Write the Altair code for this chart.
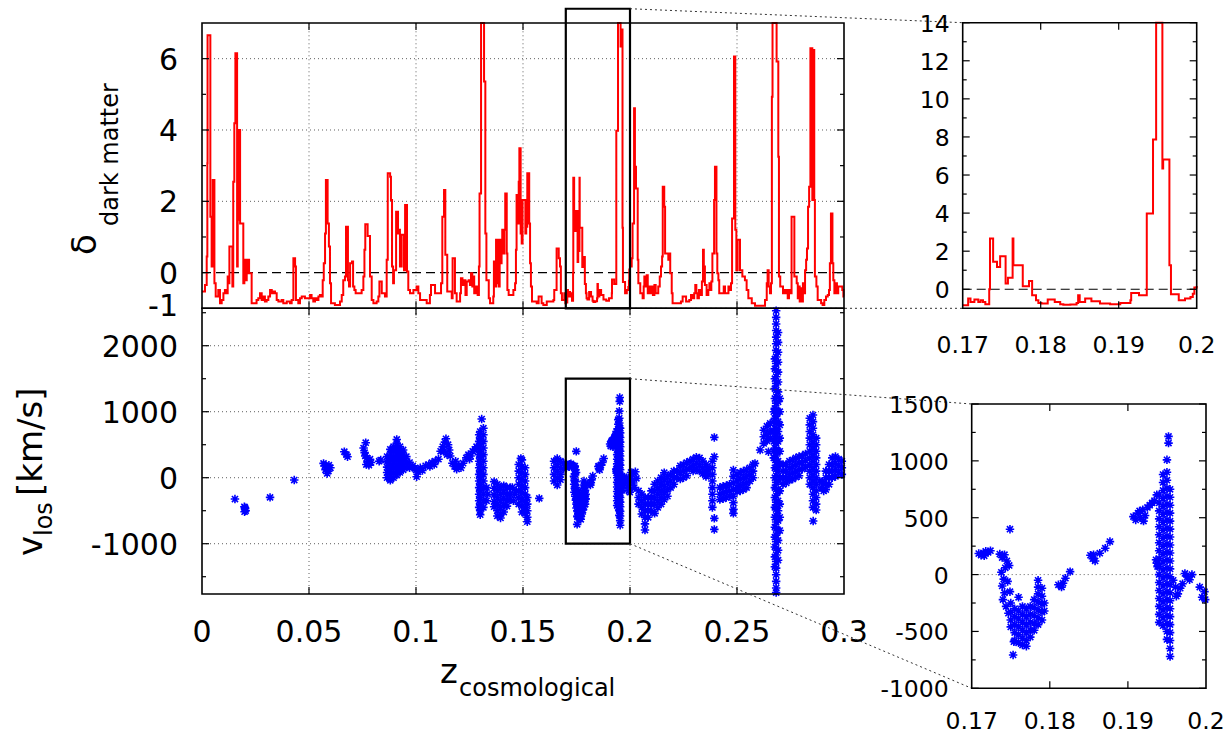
import altair as alt
import pandas as pd

# ---------------------------------------------------------------- data
# dark-matter overdensity along the line of sight (step curve): (z, delta)
delta_a = [(0.0000,-0.53),(0.0014,-0.35),(0.0022,0.45),(0.0025,3.07),(0.0026,6.66),(0.0039,1.57),(0.0045,0.17),
 (0.0050,2.60),(0.0058,-0.30),(0.0064,-0.67),(0.0076,-0.49),(0.0084,-0.86),(0.0092,-0.77),(0.0100,-0.58),(0.0107,-0.49),
 (0.0115,-0.58),(0.0120,-0.11),(0.0123,-0.30),(0.0128,0.73),(0.0142,-0.39),(0.0146,2.55),(0.0151,4.19),(0.0156,6.15),
 (0.0164,0.17),(0.0167,1.48),(0.0171,4.00),(0.0178,1.38),(0.0193,-0.30),(0.0198,0.36),(0.0204,-0.21),(0.0209,-0.02),
 (0.0213,0.36),(0.0220,-0.02),(0.0232,-0.86),(0.0255,-0.77),(0.0263,-0.72),(0.0271,-0.58),(0.0279,-0.77),(0.0287,-0.67),
 (0.0294,-0.81),(0.0302,-0.77),(0.0310,-0.67),(0.0318,-0.49),(0.0326,-0.58),(0.0334,-0.53),(0.0341,-0.58),(0.0349,-0.77),
 (0.0357,-0.81),(0.0372,-0.77),(0.0380,-0.86),(0.0396,-0.81),(0.0411,-0.86),(0.0419,-0.77),(0.0427,0.40),(0.0435,0.17),
 (0.0439,-0.77),(0.0450,-0.86),(0.0458,-0.72),(0.0466,-0.67),(0.0481,-0.72),(0.0505,-0.63),(0.0512,-0.72),(0.0520,-0.81),
 (0.0528,-0.72),(0.0536,-0.77),(0.0544,-0.67),(0.0551,-0.63),(0.0559,-0.67),(0.0564,-0.21),(0.0569,0.26),(0.0575,1.10),
 (0.0579,2.60),(0.0587,1.38),(0.0593,0.73),(0.0598,-0.30),(0.0603,-0.86),(0.0621,-0.91),(0.0645,-0.81),(0.0653,-0.63),
 (0.0660,-0.21),(0.0668,-0.11),(0.0673,1.29),(0.0682,-0.21),(0.0687,-0.39),(0.0692,0.26),(0.0701,0.31),(0.0706,-0.39),
 (0.0712,-0.49),(0.0718,-0.58),(0.0746,-0.49),(0.0754,-0.11),(0.0759,0.64),(0.0763,1.36),(0.0774,1.03),(0.0785,-0.11),
 (0.0793,-0.77),(0.0801,-0.86),(0.0816,-0.81),(0.0824,-0.67),(0.0829,-0.25),(0.0840,-0.58),(0.0855,-0.67),(0.0863,0.36),
 (0.0868,2.79),(0.0879,2.69),(0.0883,2.04),(0.0888,0.17),(0.0893,-0.30),(0.0897,0.07),(0.0907,1.71),(0.0916,1.10),
 (0.0921,1.20),(0.0925,0.17),(0.0933,1.06),(0.0944,0.07),(0.0949,1.90),(0.0958,0.03),(0.0964,-0.49),(0.0972,-0.58),
 (0.0988,-0.49)]
delta_b = [(0.1003,-0.39),(0.1011,-0.58),(0.1019,-0.77),(0.1050,-0.86),(0.1065,-0.63),(0.1070,-0.35),(0.1089,-0.58),
 (0.1117,-0.30),(0.1123,1.57),(0.1131,2.32),(0.1137,0.50),(0.1146,-0.53),(0.1167,-0.72),(0.1171,0.40),(0.1182,-0.58),
 (0.1190,-0.81),(0.1206,-0.58),(0.1210,-0.16),(0.1217,-0.35),(0.1226,-0.21),(0.1231,-0.63),(0.1237,-0.25),(0.1246,-0.21),
 (0.1252,-0.35),(0.1257,-0.02),(0.1263,-0.39),(0.1268,-0.11),(0.1272,-0.58),(0.1280,-0.39),(0.1288,-0.63),(0.1294,0.17),
 (0.1297,2.22),(0.1304,9.00),(0.1318,5.36),(0.1324,1.10),(0.1329,-0.21),(0.1340,-0.72),(0.1346,-0.86),(0.1361,-0.67),
 (0.1364,0.31),(0.1369,-0.39),(0.1374,0.92),(0.1379,-0.30),(0.1382,0.92),(0.1386,-0.39),(0.1391,0.92),(0.1396,0.26),
 (0.1400,0.92),(0.1403,1.20),(0.1408,0.54),(0.1413,1.20),(0.1417,2.22),(0.1424,0.54),(0.1427,-0.49),(0.1433,-0.63),
 (0.1455,-0.49),(0.1463,-0.30),(0.1467,0.64),(0.1470,2.18),(0.1475,1.38),(0.1480,2.55),(0.1483,3.49),(0.1489,1.10),
 (0.1494,0.82),(0.1498,2.04),(0.1511,1.10),(0.1515,1.29),(0.1520,2.79),(0.1529,1.38),(0.1533,0.26),(0.1537,-0.39),
 (0.1542,-0.81),(0.1564,-0.86),(0.1573,-0.67),(0.1587,-0.86),(0.1595,-0.91),(0.1611,-0.81),(0.1642,-0.77),(0.1646,-0.49),
 (0.1657,0.68),(0.1667,0.40),(0.1673,0.17),(0.1677,-0.58),(0.1682,-0.77),(0.1693,-0.58),(0.1698,-0.86)]
delta_c = [(0.1700,-0.84),(0.1707,-0.49),(0.1710,-0.67),(0.1715,-0.54),(0.1720,-0.67),(0.1723,-0.58),(0.1726,-0.67),
 (0.1729,-0.79),(0.1734,0.00),(0.1735,2.66),(0.1739,1.44),(0.1744,1.17),(0.1748,1.73),(0.1755,0.30),(0.1758,0.61),
 (0.1764,2.66),(0.1765,1.26),(0.1777,0.16),(0.1785,0.44),(0.1789,-0.32),(0.1794,-0.58),(0.1797,-0.72),(0.1801,-0.75),
 (0.1809,-0.54),(0.1818,-0.67),(0.1825,-0.79),(0.1829,-0.82),(0.1838,-0.80),(0.1846,-0.72),(0.1848,-0.32),(0.1850,-0.67),
 (0.1857,-0.49),(0.1865,-0.63),(0.1876,-0.75),(0.1889,-0.79),(0.1902,-0.72),(0.1915,-0.58),(0.1916,-0.19),(0.1926,-0.32),
 (0.1936,3.98),(0.1944,7.87),(0.1948,22.0),(0.1956,6.34),(0.1957,6.82),(0.1965,1.26),(0.1967,-0.26),(0.1977,-0.58),
 (0.1985,-0.49),(0.1992,-0.40),(0.1995,-0.23),(0.1997,0.09),(0.2000,0.17)]
delta_d = [(0.2008,0.40),(0.2012,1.38),(0.2019,4.61),(0.2023,2.97),(0.2028,2.36),(0.2036,0.36),(0.2039,-0.30),
 (0.2048,-0.58),(0.2059,-0.72),(0.2064,-0.39),(0.2067,-0.11),(0.2073,-0.39),(0.2078,-0.07),(0.2083,-0.58),(0.2089,-0.39),
 (0.2095,-0.58),(0.2101,-0.39),(0.2107,-0.63),(0.2114,-0.35),(0.2120,-0.58),(0.2132,-0.39),(0.2139,-0.11),(0.2145,0.17),
 (0.2150,0.45),(0.2153,2.41),(0.2160,1.85),(0.2164,0.54),(0.2179,0.36),(0.2184,0.54),(0.2188,-0.02),(0.2195,-0.58),
 (0.2199,-0.86),(0.2238,-0.81),(0.2246,-0.67),(0.2262,-0.81),(0.2277,-0.77),(0.2285,-0.63),(0.2293,-0.72),(0.2300,-0.58),
 (0.2305,-0.35),(0.2310,-0.58),(0.2315,-0.72),(0.2322,-0.49),(0.2329,-0.63),(0.2336,-0.25),(0.2341,0.64),(0.2345,0.17),
 (0.2350,-0.35),(0.2358,-0.63),(0.2366,-0.49),(0.2371,-0.30),(0.2375,-0.49),(0.2380,-0.25),(0.2385,0.54),(0.2393,2.04),
 (0.2397,2.97),(0.2404,0.54),(0.2408,-0.02),(0.2413,-0.21),(0.2417,-0.58),(0.2438,-0.39),(0.2444,-0.58),(0.2460,-0.39),
 (0.2464,-0.49),(0.2472,-0.30),(0.2477,1.52),(0.2486,6.06),(0.2492,1.20),(0.2497,0.07),(0.2503,0.92),(0.2514,0.07),
 (0.2525,-0.11),(0.2537,-0.21),(0.2545,-0.49),(0.2553,-0.72),(0.2569,-0.86),(0.2584,-0.93),(0.2631,-0.77),(0.2639,-0.30),
 (0.2643,0.07),(0.2648,-0.39),(0.2654,-0.58),(0.2659,-0.30),(0.2663,4.93),(0.2666,9.00),(0.2685,5.92),(0.2693,3.25),
 (0.2696,-0.11),(0.2702,-0.39),(0.2715,-0.58),(0.2721,-0.49),(0.2728,-0.58),(0.2732,-0.49),(0.2737,-0.72),(0.2743,-0.49),
 (0.2749,-0.58),(0.2755,1.57),(0.2768,-0.11),(0.2779,-0.30),(0.2784,-0.72),(0.2788,-0.39),(0.2793,-0.81),(0.2797,-0.44),
 (0.2802,-0.81),(0.2808,-0.30),(0.2813,-0.58),(0.2818,0.07),(0.2823,0.36),(0.2827,0.68),(0.2832,1.85),(0.2837,2.41),
 (0.2843,6.29),(0.2852,2.04),(0.2857,6.24),(0.2861,2.04),(0.2864,-0.11),(0.2871,-0.39),(0.2877,-0.77),(0.2893,-0.86),
 (0.2900,-0.91),(0.2908,-0.77),(0.2916,-0.67),(0.2924,-0.63),(0.2930,-0.49),(0.2934,0.26),(0.2939,1.66),(0.2946,0.26),
 (0.2950,-0.21),(0.2955,-0.58),(0.2961,-0.30),(0.2967,-0.58),(0.2973,-0.39),(0.2992,-0.49),(0.2997,-0.67),(0.3000,-0.67)]

# line-of-sight velocities: (z, [v_los values in km/s at that z])
vel_a = [(0.0154,[-323]),(0.0198,[-440]),(0.0201,[-470,-455]),(0.0204,[-500]),(0.0199,[-515]),(0.0318,[-298]),
 (0.0431,[-35]),(0.0568,[217]),(0.0574,[180]),(0.0577,[120]),(0.0583,[150]),(0.0585,[65]),(0.0590,[100]),(0.0593,[190]),
 (0.0600,[150]),(0.0665,[394]),(0.0675,[350]),(0.0680,[318]),(0.0755,[450]),(0.0760,[380]),(0.0763,[330]),(0.0765,[530]),
 (0.0768,[200]),(0.0770,[300]),(0.0775,[250]),(0.0780,[190]),(0.0785,[280]),(0.0790,[230]),(0.0828,[250]),(0.0835,[268]),
 (0.0865,[0,80,160,240,320]),(0.0880,[-40,40,120,200,280,360,430]),(0.0895,[0,80,160,240,320,400,470]),
 (0.0910,[40,120,200,280,360,440,520,580]),(0.0925,[80,160,240,320,400,470]),(0.0940,[120,200,280,360,420]),
 (0.0955,[160,240,320]),(0.0970,[150,230]),(0.0985,[180]),(0.0995,[141])]
vel_b = [(0.1000,[120]),(0.1003,[15]),(0.1010,[90]),(0.1020,[150]),(0.1030,[110]),(0.1045,[180]),(0.1060,[200]),
 (0.1065,[170]),(0.1075,[230]),(0.1085,[200]),(0.1090,[250]),(0.1105,[280]),(0.1115,[400]),(0.1125,[470]),(0.1130,[400]),
 (0.1135,[540]),(0.1140,[590]),(0.1145,[350]),(0.1150,[500]),(0.1155,[420]),(0.1160,[330]),(0.1170,[220]),(0.1180,[170]),
 (0.1185,[250]),(0.1190,[130]),(0.1200,[180]),(0.1210,[150]),(0.1220,[220]),(0.1235,[300]),(0.1245,[350]),(0.1250,[280]),
 (0.1255,[330]),(0.1265,[400]),(0.1275,[430]),(0.1283,[470]),
 (0.1295,[650,550,450,350,250,150,50,-50,-150,-250,-350,-450]),
 (0.1300,[700,600,500,400,300,200,100,0,-100,-200,-300,-400,-500,-560]),(0.1307,[889]),
 (0.1315,[750,650,550,450,350,250,150,50,-50,-150,-250,-350,-450]),(0.1330,[-150,-350]),(0.1335,[-250]),
 (0.1365,[-60,-160,-260,-360,-440]),(0.1380,[-100,-200,-300,-400,-500,-580]),(0.1395,[-150,-250,-350,-450,-550,-610]),
 (0.1410,[-120,-220,-320,-420,-520]),(0.1425,[-150,-250,-350,-430]),(0.1440,[-150,-250,-330]),(0.1450,[-150]),
 (0.1455,[-350]),(0.1460,[-250]),(0.1468,[-200]),(0.1480,[200,100,0,-100,-200,-300,-400]),(0.1490,[293]),
 (0.1495,[270,170,70,-30,-130,-230,-330,-430,-520]),(0.1510,[150,50,-50,-150,-250,-350,-450,-540]),
 (0.1520,[-300,-400,-500,-600,-667]),(0.1576,[-313]),(0.1645,[250,150,50,-50]),(0.1660,[290,200,100,0,-111]),
 (0.1675,[250,150,50,-30]),(0.1690,[220,130])]
vel_c = [(0.1709,[185]),(0.1712,[170]),(0.1715,[190]),(0.1716,[165]),(0.1718,[205]),(0.1721,[195]),(0.1724,[210]),
 (0.1736,[180]),(0.1738,[20]),(0.1739,[150,-100]),(0.1740,[-220]),(0.1741,[-40]),(0.1742,[175,-160]),(0.1743,[60]),
 (0.1744,[-280]),(0.1745,[120]),(0.1746,[-60]),(0.1747,[-340]),(0.1748,[80]),(0.1749,[399,-150]),
 (0.1750,[-250,-330,-400,-460]),(0.1753,[-707]),(0.1754,[-590]),(0.1755,[-300,-370,-440,-510,-580]),
 (0.1760,[-200,-320,-390,-460,-530,-600]),(0.1765,[-280,-350,-420,-490,-560,-620]),
 (0.1770,[-300,-370,-440,-510,-580,-630]),(0.1775,[-280,-350,-420,-490,-550]),(0.1780,[-220,-290,-360,-430,-490]),
 (0.1785,[-50,-110,-170,-240,-310,-380,-440]),(0.1790,[-120,-190,-260,-330,-400]),(0.1793,[-250,-320]),
 (0.1811,[-90]),(0.1815,[-110]),(0.1817,[-76]),(0.1820,[-32]),(0.1826,[26]),(0.1852,[170]),(0.1855,[140]),
 (0.1856,[175]),(0.1858,[120]),(0.1864,[188]),(0.1871,[232]),(0.1877,[290]),(0.1907,[510]),(0.1910,[480]),
 (0.1913,[540]),(0.1915,[560]),(0.1916,[500]),(0.1919,[570]),(0.1920,[470]),(0.1922,[520]),(0.1925,[590]),
 (0.1928,[610]),(0.1931,[630]),(0.1934,[650]),(0.1936,[130]),(0.1937,[701,100]),(0.1938,[70]),
 (0.1940,[700,630,560,490,420,350,280,210,140,70,0,-70,-140,-210,-280,-350,-420]),
 (0.1945,[880,810,740,670,600,530,460,390,320,250,180,110,40,-30,-100,-170,-240,-310,-380,-450]),
 (0.1950,[1009,900,830,760,690,620,550,480,410,340,270,200,130,60,-10,-80,-150,-220,-290,-360,-430,-500,-570]),
 (0.1952,[1215,1156]),
 (0.1954,[750,680,610,540,470,400,330,260,190,120,50,-20,-90,-160,-230,-300,-370,-440,-510,-580,-650,-720]),
 (0.1958,[-50]),(0.1961,[-110]),(0.1962,[-190]),(0.1964,[-170]),(0.1967,[-120]),(0.1970,[-80]),(0.1973,[10]),
 (0.1976,[-20]),(0.1979,[-45]),(0.1982,[0]),(0.1992,[-110]),(0.1995,[-200]),(0.1998,[-150]),(0.1999,[-220])]
vel_d = [(0.2005,[80,-20]),(0.2010,[50]),(0.2015,[-80]),(0.2020,[-150]),(0.2025,[90]),(0.2030,[-10]),
 (0.2040,[-200,-300,-400]),(0.2055,[-250,-350,-450,-550]),(0.2070,[-300,-400,-500,-600,-700,-793]),
 (0.2085,[-300,-400,-500,-600]),(0.2100,[-200,-300,-400,-500]),(0.2115,[-100,-200,-300,-400,-540]),
 (0.2130,[-50,-150,-250,-350,-450]),(0.2145,[0,-100,-200,-300,-400]),(0.2160,[76,-30,-130,-230,-330]),
 (0.2175,[20,-80,-180,-280]),(0.2190,[50,-50,-150]),(0.2205,[100,0,-100]),(0.2220,[100,0]),(0.2235,[180,80,-20]),
 (0.2250,[200,100,0]),(0.2265,[230,130,30]),(0.2280,[250,150]),(0.2295,[280,180,100]),(0.2310,[310,220,130]),
 (0.2325,[300,200,100]),(0.2340,[250,150,60]),(0.2355,[200,100,20]),(0.2365,[150,50]),
 (0.2385,[250,150,50,-50,-150,-250,-350,-450]),(0.2394,[611,318,-616,-783]),(0.2420,[-150,-250,-330]),
 (0.2435,[-130,-230,-320]),(0.2450,[-120,-220,-300]),(0.2465,[-100,-200,-280]),
 (0.2483,[116,20,-80,-180,-280,-380,-480,-540]),(0.2500,[50,-50,-150,-210]),(0.2515,[80,-20,-120,-200]),
 (0.2530,[100,0,-100,-180]),(0.2545,[120,20,-80,-150]),(0.2560,[150,50,-50]),(0.2575,[200,100,0]),(0.2584,[217]),
 (0.2608,[419]),(0.2625,[520,620,720]),(0.2640,[560,660,780]),(0.2647,[394]),(0.2655,[600,700,823]),
 (0.2672,[1000,850,700,550,400,300]),
 (0.2677,[1800,1650,1500,1350,1200,1050,900,750,600,450,300,150,0,-150,-300,-450,-600,-750,-900,-1050,-1200,-1350]),
 (0.2683,[2530,2430,2330,2230,2130,2030,1930,1830,1730,1630,1530,1430,1330,1230,1130,1030,930,830,730,630,530,430,
          330,230,130,30,-70,-170,-270,-370,-470,-570,-670,-770,-870,-970,-1070,-1170,-1270,-1370,-1470,-1570,-1670,-1740]),
 (0.2692,[2200,2050,1900,1750,1600,1450,1300,1150,1000,850,700,550,400,250,100,-50,-200,-350,-500,-650,-800,-950,
          -1100,-1250]),
 (0.2700,[1200,1000,800,600,400,200,0,-200,-400,-600,-800]),
 (0.2715,[200,100,0,-100]),(0.2730,[200,100,0,-80]),(0.2745,[250,150,50,-40]),(0.2760,[270,170,70,-20]),
 (0.2775,[300,200,100,10]),(0.2790,[320,220,120,30]),(0.2805,[330,230,130]),(0.2820,[360,260,160]),
 (0.2840,[900,800,700,600,500,400,300,200,100,0,-100]),
 (0.2855,[950,850,750,650,550,450,350,250,150,50,-50,-150,-250,-350,-450]),(0.2856,[-657]),
 (0.2870,[600,500,400,300,200,100,0,-100,-200,-300,-400,-490]),(0.2885,[-50]),(0.2895,[-150]),(0.2900,[-60]),
 (0.2905,[-200]),(0.2915,[100,0,-100,-180]),(0.2930,[200,100,0,-100]),(0.2945,[300,200,100,0]),
 (0.2960,[320,220,120,20]),(0.2975,[280,180,80]),(0.2990,[250,150,50])]

# ticks and labels
main_x_ticks = [0, 0.05, 0.1, 0.15, 0.2, 0.25, 0.3]
main_x_labels = ["0", "0.05", "0.1", "0.15", "0.2", "0.25", "0.3"]
top_y_label_pos = [-0.9, 0, 2, 4, 6]
top_y_labels = ["-1", "0", "2", "4", "6"]
top_y_major = [0, 2, 4, 6]
top_y_minor = [1, 3, 5]
bot_y_ticks = [-1000, 0, 1000, 2000]
bot_y_labels = ["-1000", "0", "1000", "2000"]
bot_y_minor = [-1500, -500, 500, 1500, 2500]
zoom_x_ticks = [0.17, 0.18, 0.19, 0.2]
zoom_x_labels = ["0.17", "0.18", "0.19", "0.2"]
in1_y_ticks = [0, 2, 4, 6, 8, 10, 12, 14]
in1_y_labels = ["0", "2", "4", "6", "8", "10", "12", "14"]
in1_y_minor = [1, 3, 5, 7, 9, 11, 13]
in2_y_ticks = [-1000, -500, 0, 500, 1000, 1500]
in2_y_labels = ["-1000", "-500", "0", "500", "1000", "1500"]
in2_y_minor = [-750, -250, 250, 750, 1250]

# ---------------------------------------------------------------- layout / style
FONT = "DejaVu Sans"
RED, BLUE, GRIDC = "#ff0000", "#0000ff", "#606060"
ASTER = "M-1,0L1,0M0,-1L0,1M-0.72,-0.72L0.72,0.72M-0.72,0.72L0.72,-0.72"
STAR_SIZE, STAR_W = 72, 1.6
MAIN_X = [202, 844]
TOP_Y = [308.3, 23]
BOT_Y = [594, 308.3]
IN1_X = [962.7, 1196.7]
IN1_Y = [308.3, 22.7]
IN2_X = [971.7, 1206]
IN2_Y = [688.3, 404]
Z_MAIN = [0.0, 0.3]
Z_ZOOM = [0.17, 0.2]
D_MAIN = [-1, 7]
D_ZOOM = [-1, 14]
V_MAIN = [-1762, 2567]
V_ZOOM = [-1000, 1500]
RECT_D = [-1, 7.4]
RECT_V = [-1000, 1500]
FS_MAIN, FS_ZOOM = 30, 23.5

ONE = pd.DataFrame({"k": [0]})
delta_df = pd.DataFrame(delta_a + delta_b + delta_c + delta_d, columns=["z", "d"])
vel_df = pd.DataFrame([(z, v) for grp in (vel_a, vel_b, vel_c, vel_d) for z, vs in grp for v in vs],
                      columns=["z", "v"])


def sc(dom, rng):
    return alt.Scale(domain=dom, range=rng, nice=False, zero=False)


def xd(v, s):
    return alt.XDatum(v, type="quantitative", scale=s, axis=None)


def yd(v, s):
    return alt.YDatum(v, type="quantitative", scale=s, axis=None)


def xf(f, s):
    return alt.X(f, type="quantitative", scale=s, axis=None)


def yf(f, s):
    return alt.Y(f, type="quantitative", scale=s, axis=None)


def box(xs, ys, xdom, ydom, sw):
    return alt.Chart(ONE).mark_rect(filled=False, stroke="black", strokeWidth=sw).encode(
        x=xd(xdom[0], xs), x2=alt.X2Datum(xdom[1]), y=yd(ydom[0], ys), y2=alt.Y2Datum(ydom[1]))


def vrules(vals, xs, ys, y0, y1, **kw):
    return alt.Chart(pd.DataFrame({"t": vals})).mark_rule(**kw).encode(
        x=xf("t", xs), y=yd(y0, ys), y2=alt.Y2Datum(y1))


def hrules(vals, xs, ys, x0, x1, **kw):
    return alt.Chart(pd.DataFrame({"t": vals})).mark_rule(**kw).encode(
        y=yf("t", ys), x=xd(x0, xs), x2=alt.X2Datum(x1))


def ticks(xs, ys, xdom, ydom, xt, yt, ym, big=7, small=4):
    out = []
    if xt:
        out.append(vrules(xt, xs, ys, ydom[0], ydom[0], color="black", strokeWidth=1.2, y2Offset=-big))
        out.append(vrules(xt, xs, ys, ydom[1], ydom[1], color="black", strokeWidth=1.2, y2Offset=big))
    for vals, ln in ((yt, big), (ym, small)):
        if vals:
            out.append(hrules(vals, xs, ys, xdom[0], xdom[0], color="black", strokeWidth=1.2, x2Offset=ln))
            out.append(hrules(vals, xs, ys, xdom[1], xdom[1], color="black", strokeWidth=1.2, x2Offset=-ln))
    return out


def ylab(vals, labs, xs, ys, xv, dx, fs):
    return alt.Chart(pd.DataFrame({"t": vals, "l": labs})).mark_text(
        align="right", baseline="middle", dx=dx, dy=2, font=FONT, fontSize=fs, color="black").encode(
        x=xd(xv, xs), y=yf("t", ys), text="l:N")


def xlab(vals, labs, xs, ys, yv, dy, fs):
    return alt.Chart(pd.DataFrame({"t": vals, "l": labs})).mark_text(
        align="center", baseline="middle", dy=dy, font=FONT, fontSize=fs, color="black").encode(
        x=xf("t", xs), y=yd(yv, ys), text="l:N")


def conn(xs, ys, xv, yv, px, py):
    return alt.Chart(ONE).mark_rule(color="#333333", strokeWidth=1, strokeDash=[2, 3]).encode(
        x=xd(xv, xs), y=yd(yv, ys), x2=alt.value(px), y2=alt.value(py))


def stars(data, xs, ys):
    return data.mark_point(shape=ASTER, filled=False, color=BLUE, strokeWidth=STAR_W, size=STAR_SIZE,
                           opacity=1).encode(x=xf("z", xs), y=yf("v", ys))


def txt(s, x, y, fs, angle=0):
    return alt.Chart(ONE).mark_text(text=s, angle=angle, align="left", baseline="alphabetic",
                                    font=FONT, fontSize=fs, color="black").encode(
        x=alt.value(x), y=alt.value(y))


layers = []
inner_x = [0.05, 0.1, 0.15, 0.2, 0.25]

# ---- main top: delta
sx, sy = sc(Z_MAIN, MAIN_X), sc(D_MAIN, TOP_Y)
layers += [
    vrules(inner_x, sx, sy, D_MAIN[0], D_MAIN[1], color=GRIDC, strokeWidth=1, strokeDash=[1, 3]),
    hrules([2, 4, 6], sx, sy, Z_MAIN[0], Z_MAIN[1], color=GRIDC, strokeWidth=1, strokeDash=[1, 3]),
    hrules([0], sx, sy, Z_MAIN[0], Z_MAIN[1], color="black", strokeWidth=1.2, strokeDash=[9, 5]),
    alt.Chart(delta_df).transform_calculate(dc=f"min(datum.d, {D_MAIN[1]})").mark_line(
        interpolate="step-after", color=RED, strokeWidth=2).encode(x=xf("z", sx), y=yf("dc", sy)),
    box(sx, sy, Z_MAIN, D_MAIN, 1.6),
]
layers += ticks(sx, sy, Z_MAIN, D_MAIN, inner_x, top_y_major, top_y_minor)
layers += [
    ylab(top_y_label_pos, top_y_labels, sx, sy, Z_MAIN[0], -24, FS_MAIN),
    box(sx, sy, Z_ZOOM, RECT_D, 2.2),
    conn(sx, sy, Z_ZOOM[1], RECT_D[1], IN1_X[0], IN1_Y[1]),
    conn(sx, sy, Z_ZOOM[1], RECT_D[0], IN1_X[0], IN1_Y[0]),
]

# ---- main bottom: velocities
sx, sy = sc(Z_MAIN, MAIN_X), sc(V_MAIN, BOT_Y)
layers += [
    vrules(inner_x, sx, sy, V_MAIN[0], V_MAIN[1], color=GRIDC, strokeWidth=1, strokeDash=[1, 3]),
    hrules(bot_y_ticks, sx, sy, Z_MAIN[0], Z_MAIN[1], color=GRIDC, strokeWidth=1, strokeDash=[1, 3]),
    stars(alt.Chart(vel_df), sx, sy),
    box(sx, sy, Z_MAIN, V_MAIN, 1.6),
]
layers += ticks(sx, sy, Z_MAIN, V_MAIN, inner_x, bot_y_ticks, bot_y_minor)
layers += [
    ylab(bot_y_ticks, bot_y_labels, sx, sy, Z_MAIN[0], -24, FS_MAIN),
    xlab(main_x_ticks, main_x_labels, sx, sy, V_MAIN[0], 39, FS_MAIN),
    box(sx, sy, Z_ZOOM, RECT_V, 2.2),
    conn(sx, sy, Z_ZOOM[1], RECT_V[1], IN2_X[0], IN2_Y[1]),
    conn(sx, sy, Z_ZOOM[1], RECT_V[0], IN2_X[0], IN2_Y[0]),
]

zfilter = f"datum.z >= {Z_ZOOM[0]} && datum.z <= {Z_ZOOM[1]}"

# ---- inset 1: delta zoom
sx, sy = sc(Z_ZOOM, IN1_X), sc(D_ZOOM, IN1_Y)
layers += [
    hrules([0], sx, sy, Z_ZOOM[0], Z_ZOOM[1], color="black", strokeWidth=1.2, strokeDash=[9, 5]),
    alt.Chart(delta_df).transform_filter(zfilter).transform_calculate(dc=f"min(datum.d, {D_ZOOM[1]})").mark_line(
        interpolate="step-after", color=RED, strokeWidth=2).encode(x=xf("z", sx), y=yf("dc", sy)),
    box(sx, sy, Z_ZOOM, D_ZOOM, 1.6),
]
layers += ticks(sx, sy, Z_ZOOM, D_ZOOM, [0.18, 0.19], in1_y_ticks, in1_y_minor)
layers += [
    ylab(in1_y_ticks, in1_y_labels, sx, sy, Z_ZOOM[0], -13, FS_ZOOM),
    xlab(zoom_x_ticks, zoom_x_labels, sx, sy, D_ZOOM[0], 38, FS_ZOOM),
]

# ---- inset 2: velocity zoom
sx, sy = sc(Z_ZOOM, IN2_X), sc(V_ZOOM, IN2_Y)
layers += [
    hrules([0], sx, sy, Z_ZOOM[0], Z_ZOOM[1], color=GRIDC, strokeWidth=1, strokeDash=[1, 3]),
    stars(alt.Chart(vel_df).transform_filter(zfilter), sx, sy),
    box(sx, sy, Z_ZOOM, V_ZOOM, 1.6),
]
layers += ticks(sx, sy, Z_ZOOM, V_ZOOM, [0.18, 0.19], in2_y_ticks, in2_y_minor)
layers += [
    ylab(in2_y_ticks, in2_y_labels, sx, sy, Z_ZOOM[0], -23, FS_ZOOM),
    xlab(zoom_x_ticks, zoom_x_labels, sx, sy, V_ZOOM[0], 34, FS_ZOOM),
]

# ---- axis titles (with subscripts)
layers += [
    txt("δ", 96, 255, 34, 270),
    txt("dark matter", 118, 226, 24, 270),
    txt("v", 42, 556, 34, 270),
    txt("los", 52, 536, 24, 270),
    txt("[km/s]", 42, 496, 34, 270),
    txt("z", 440, 683, 34),
    txt("cosmological", 459, 696, 24),
]

chart = alt.layer(*layers).resolve_scale(x="independent", y="independent").properties(
    width=1231, height=738, autosize=alt.AutoSizeParams(type="none"), padding=0, background="white"
).configure_view(stroke=None)

chart.save("out.html", embed_options={"renderer": "svg", "actions": False})
